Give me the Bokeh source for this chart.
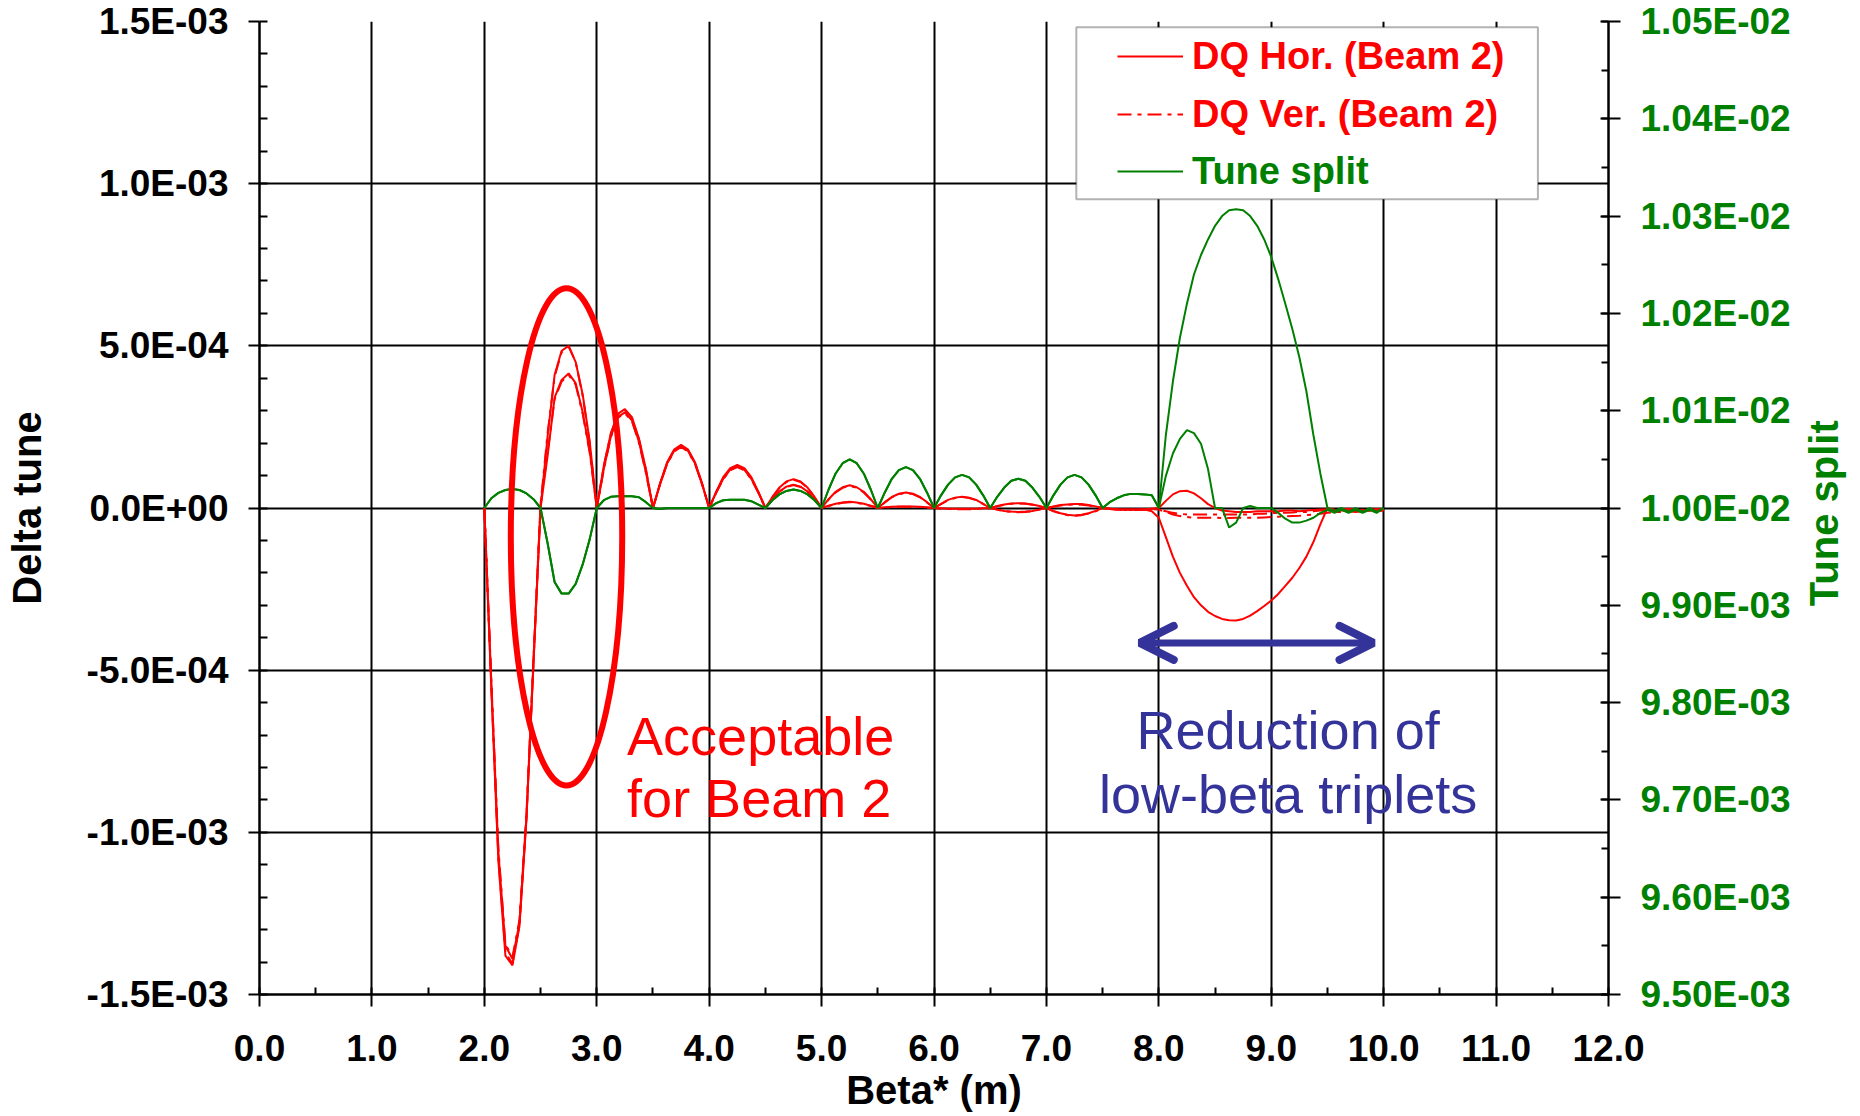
import numpy as np
from bokeh.plotting import figure
from bokeh.layouts import row
from bokeh.models import (Range1d, LinearAxis, FixedTicker, CustomJSTickFormatter, Legend,
                          LegendItem, BoxAnnotation, Label, Arrow, OpenHead)
from bokeh.embed import file_html
from bokeh.resources import INLINE

# ---------------- data ----------------
# Beta* scan points (m)
beta = [
    2.0, 2.0625, 2.125, 2.1875, 2.25, 2.3125, 2.375, 2.4375,
    2.5, 2.5625, 2.625, 2.6875, 2.75, 2.8125, 2.875, 2.9375,
    3.0, 3.0625, 3.125, 3.1875, 3.25, 3.3125, 3.375, 3.4375,
    3.5, 3.5625, 3.625, 3.6875, 3.75, 3.8125, 3.875, 3.9375,
    4.0, 4.0625, 4.125, 4.1875, 4.25, 4.3125, 4.375, 4.4375,
    4.5, 4.5625, 4.625, 4.6875, 4.75, 4.8125, 4.875, 4.9375,
    5.0, 5.0625, 5.125, 5.1875, 5.25, 5.3125, 5.375, 5.4375,
    5.5, 5.5625, 5.625, 5.6875, 5.75, 5.8125, 5.875, 5.9375,
    6.0, 6.0625, 6.125, 6.1875, 6.25, 6.3125, 6.375, 6.4375,
    6.5, 6.5625, 6.625, 6.6875, 6.75, 6.8125, 6.875, 6.9375,
    7.0, 7.0625, 7.125, 7.1875, 7.25, 7.3125, 7.375, 7.4375,
    7.5, 7.5625, 7.625, 7.6875, 7.75, 7.8125, 7.875, 7.9375,
    8.0, 8.0625, 8.125, 8.1875, 8.25, 8.3125, 8.375, 8.4375,
    8.5, 8.5625, 8.625, 8.6875, 8.75, 8.8125, 8.875, 8.9375,
    9.0, 9.0625, 9.125, 9.1875, 9.25, 9.3125, 9.375, 9.4375,
    9.5, 9.5625, 9.625, 9.6875, 9.75, 9.8125, 9.875, 9.9375,
    10.0,
]

# Delta tune, in units of 1e-4
dq_hor_a_e4 = [
    0, -5.6, -10.9, -13.8, -14.1, -12.9, -9.6, -4.7,
    0.0, 2.2, 4.1, 4.85, 5.0, 4.5, 3.5, 2.05,
    0, 1.3, 2.3, 2.9, 3.05, 2.8, 2.15, 1.2,
    0, 0.75, 1.4, 1.8, 1.95, 1.8, 1.4, 0.75,
    0, 0.5, 0.95, 1.23, 1.33, 1.23, 0.95, 0.5,
    0, 0.34, 0.63, 0.82, 0.89, 0.82, 0.63, 0.34,
    0, 0.27, 0.5, 0.64, 0.7, 0.64, 0.5, 0.27,
    0, 0.18, 0.34, 0.44, 0.48, 0.44, 0.34, 0.18,
    0, 0.13, 0.25, 0.32, 0.35, 0.32, 0.25, 0.13,
    0, 0.06, 0.11, 0.14, 0.15, 0.14, 0.11, 0.06,
    0, 0.05, 0.09, 0.11, 0.12, 0.12, 0.09, 0.05,
    0, -0.02, -0.04, -0.05, -0.05, -0.05, -0.04, -0.02,
    0, 0.22, 0.42, 0.52, 0.53, 0.45, 0.3, 0.12,
    0, -0.08, -0.1, -0.12, -0.12, -0.12, -0.1, -0.1,
    -0.1, -0.1, -0.08, -0.08, -0.1, -0.08, -0.06, -0.05,
    -0.05, -0.08, -0.05, -0.02, -0.05, -0.08, -0.05, -0.03,
    -0.05,
]
dq_ver_a_e4 = [
    0, -5.5, -10.8, -13.7, -14.05, -12.85, -9.5, -4.6,
    0.1, 2.3, 4.05, 4.8, 4.98, 4.5, 3.45, 2.0,
    0, 1.28, 2.28, 2.88, 3.02, 2.78, 2.12, 1.18,
    0, 0.74, 1.38, 1.78, 1.93, 1.78, 1.38, 0.74,
    0, 0.49, 0.93, 1.2, 1.3, 1.2, 0.93, 0.49,
    0, 0.33, 0.62, 0.8, 0.87, 0.8, 0.62, 0.33,
    0, 0.26, 0.48, 0.62, 0.68, 0.62, 0.48, 0.26,
    0, 0.17, 0.33, 0.43, 0.46, 0.43, 0.33, 0.17,
    0, 0.12, 0.24, 0.31, 0.34, 0.31, 0.24, 0.12,
    0, 0.05, 0.1, 0.13, 0.14, 0.13, 0.1, 0.05,
    0, 0.04, 0.08, 0.1, 0.11, 0.1, 0.08, 0.04,
    0, -0.03, -0.05, -0.06, -0.06, -0.06, -0.05, -0.03,
    -0.05, -0.12, -0.2, -0.25, -0.28, -0.3, -0.3, -0.3,
    -0.3, -0.31, -0.31, -0.3, -0.3, -0.3, -0.3, -0.29,
    -0.28, -0.27, -0.26, -0.25, -0.24, -0.22, -0.2, -0.18,
    -0.15, -0.13, -0.12, -0.1, -0.12, -0.1, -0.08, -0.1,
    -0.08,
]
dq_hor_b_e4 = [
    0, -5.4, -10.6, -13.5, -13.9, -12.8, -9.5, -4.8,
    0.0, 1.6, 3.4, 3.95, 4.15, 3.85, 2.95, 1.75,
    0, 1.2, 2.2, 2.8, 2.95, 2.7, 2.05, 1.1,
    0, 0.73, 1.37, 1.76, 1.9, 1.76, 1.37, 0.73,
    0, 0.48, 0.9, 1.18, 1.28, 1.18, 0.9, 0.48,
    0, 0.27, 0.51, 0.66, 0.72, 0.66, 0.51, 0.27,
    0, 0.07, 0.13, 0.17, 0.19, 0.17, 0.13, 0.07,
    0, 0.02, 0.04, 0.05, 0.05, 0.05, 0.04, 0.02,
    0, -0.01, -0.02, -0.02, -0.02, -0.02, -0.02, -0.01,
    0, -0.05, -0.09, -0.11, -0.12, -0.11, -0.09, -0.05,
    0, -0.09, -0.16, -0.21, -0.23, -0.21, -0.16, -0.09,
    0, -0.02, -0.04, -0.05, -0.05, -0.05, -0.05, -0.1,
    -0.3, -0.9, -1.5, -2.0, -2.4, -2.75, -3.0, -3.2,
    -3.33, -3.42, -3.46, -3.47, -3.42, -3.32, -3.18, -3.02,
    -2.85, -2.65, -2.4, -2.15, -1.85, -1.5, -1.05, -0.5,
    0.0, -0.05, -0.08, -0.05, -0.08, -0.05, -0.08, -0.05,
    -0.05,
]
dq_ver_b_e4 = [
    0, -5.35, -10.5, -13.45, -13.85, -12.7, -9.4, -4.7,
    0.1, 1.7, 3.35, 3.9, 4.1, 3.8, 2.9, 1.7,
    0, 1.18, 2.18, 2.78, 2.92, 2.68, 2.02, 1.08,
    0, 0.72, 1.35, 1.74, 1.88, 1.74, 1.35, 0.72,
    0, 0.47, 0.89, 1.16, 1.26, 1.16, 0.89, 0.47,
    0, 0.26, 0.5, 0.65, 0.71, 0.65, 0.5, 0.26,
    0, 0.06, 0.12, 0.16, 0.18, 0.16, 0.12, 0.06,
    0, 0.01, 0.03, 0.04, 0.04, 0.04, 0.03, 0.01,
    0, -0.02, -0.03, -0.04, -0.04, -0.04, -0.03, -0.02,
    0, -0.05, -0.1, -0.12, -0.13, -0.12, -0.1, -0.05,
    0, -0.1, -0.17, -0.22, -0.24, -0.22, -0.17, -0.1,
    0, -0.03, -0.05, -0.06, -0.06, -0.06, -0.05, -0.03,
    -0.05, -0.1, -0.15, -0.18, -0.2, -0.2, -0.2, -0.2,
    -0.2, -0.2, -0.2, -0.2, -0.2, -0.2, -0.18, -0.18,
    -0.16, -0.15, -0.15, -0.14, -0.12, -0.12, -0.1, -0.08,
    -0.06, -0.1, -0.06, -0.1, -0.06, -0.1, -0.06, -0.1,
    -0.06,
]

# Tune split, in units of 1e-5
tune_split_a_e5 = [
    1000, 1001.0, 1001.55, 1001.85, 1001.95, 1001.85, 1001.5, 1000.9,
    1000, 996.4, 992.4, 991.2, 991.2, 992.2, 994.2, 996.8,
    1000, 1000.8, 1001.15, 1001.2, 1001.2, 1001.2, 1001.1, 1000.6,
    1000, 999.9, 1000, 1000, 1000, 1000, 1000, 1000,
    1000, 1000.5, 1000.8, 1000.86, 1000.86, 1000.85, 1000.7, 1000.35,
    1000, 1000.8, 1001.4, 1001.75, 1001.9, 1001.75, 1001.4, 1000.8,
    1000, 1001.9, 1003.55, 1004.6, 1005.0, 1004.6, 1003.55, 1001.9,
    1000, 1001.6, 1003.0, 1003.9, 1004.2, 1003.9, 1003.0, 1001.6,
    1000, 1001.3, 1002.4, 1003.15, 1003.4, 1003.15, 1002.4, 1001.3,
    1000, 1001.15, 1002.1, 1002.8, 1003.0, 1002.8, 1002.1, 1001.15,
    1000, 1001.3, 1002.4, 1003.15, 1003.4, 1003.15, 1002.4, 1001.3,
    1000, 1000.6, 1001.0, 1001.3, 1001.45, 1001.45, 1001.4, 1001.3,
    1000, 1007.5, 1013.0, 1017.5, 1021.0, 1024.0, 1026.0, 1027.6,
    1029.0, 1030.0, 1030.6, 1030.7, 1030.6, 1030.0, 1029.0, 1027.6,
    1025.8, 1023.5, 1021.0, 1018.4, 1015.5, 1012.0, 1007.5, 1003.5,
    1000, 999.7, 1000, 999.6, 1000, 999.6, 1000, 999.6,
    1000,
]
tune_split_b_e5 = [
    1000, 1001.0, 1001.55, 1001.85, 1001.95, 1001.85, 1001.5, 1000.9,
    1000, 996.4, 992.4, 991.2, 991.2, 992.2, 994.2, 996.8,
    1000, 1000.8, 1001.15, 1001.2, 1001.2, 1001.2, 1001.1, 1000.6,
    1000, 999.9, 1000, 1000, 1000, 1000, 1000, 1000,
    1000, 1000.5, 1000.8, 1000.86, 1000.86, 1000.85, 1000.7, 1000.35,
    1000, 1000.8, 1001.4, 1001.75, 1001.9, 1001.75, 1001.4, 1000.8,
    1000, 1001.9, 1003.55, 1004.6, 1005.0, 1004.6, 1003.55, 1001.9,
    1000, 1001.6, 1003.0, 1003.9, 1004.2, 1003.9, 1003.0, 1001.6,
    1000, 1001.3, 1002.4, 1003.15, 1003.4, 1003.15, 1002.4, 1001.3,
    1000, 1001.15, 1002.1, 1002.8, 1003.0, 1002.8, 1002.1, 1001.15,
    1000, 1001.3, 1002.4, 1003.15, 1003.4, 1003.15, 1002.4, 1001.3,
    1000, 1000.6, 1001.0, 1001.3, 1001.45, 1001.45, 1001.4, 1001.3,
    1000, 1003.3, 1005.6, 1007.1, 1008.0, 1007.7, 1006.6, 1004.0,
    1000, 1000, 998.0, 998.5, 1000, 1000.2, 1000, 1000,
    1000, 999.5, 998.9, 998.5, 998.5, 998.7, 999.0, 999.5,
    999.8, 999.5, 999.8, 999.5, 999.8, 999.5, 999.8, 999.5,
    1000,
]

x_ticks = [0.0, 1.0, 2.0, 3.0, 4.0, 5.0, 6.0, 7.0, 8.0, 9.0, 10.0, 11.0, 12.0]
x_tick_labels = ["0.0", "1.0", "2.0", "3.0", "4.0", "5.0", "6.0", "7.0", "8.0",
                 "9.0", "10.0", "11.0", "12.0"]
y_ticks = [-1.5e-3, -1.0e-3, -5.0e-4, 0.0, 5.0e-4, 1.0e-3, 1.5e-3]
y_tick_labels = ["-1.5E-03", "-1.0E-03", "-5.0E-04", "0.0E+00", "5.0E-04", "1.0E-03", "1.5E-03"]
y2_ticks = [9.5e-3, 9.6e-3, 9.7e-3, 9.8e-3, 9.9e-3, 1.00e-2, 1.01e-2, 1.02e-2, 1.03e-2,
            1.04e-2, 1.05e-2]
y2_tick_labels = ["9.50E-03", "9.60E-03", "9.70E-03", "9.80E-03", "9.90E-03", "1.00E-02",
                  "1.01E-02", "1.02E-02", "1.03E-02", "1.04E-02", "1.05E-02"]

# unit conversion
dq_hor_a = np.array(dq_hor_a_e4) * 1e-4
dq_ver_a = np.array(dq_ver_a_e4) * 1e-4
dq_hor_b = np.array(dq_hor_b_e4) * 1e-4
dq_ver_b = np.array(dq_ver_b_e4) * 1e-4
tune_a = np.array(tune_split_a_e5) * 1e-5
tune_b = np.array(tune_split_b_e5) * 1e-5

# ---------------- styling constants ----------------
RED = "#FF0000"
GREEN = "#008000"
BLUE = "#333399"
FONT = "Liberation Sans"

ELLIPSE = dict(x=2.731, y=-8.9e-5, w=0.991, h=1.533e-3)
ARROW = dict(x0=7.83, x1=9.91, y=-4.16e-4)
LEGEND_BOX = dict(left=7.266, right=11.372, top=1.4825e-3, bottom=9.52e-4)

MAIN_W, SIDE_W, H = 1800, 60, 1116
SIDE_TITLE_X, SIDE_TITLE_Y = 23, 552


def tick_fmt(tick_values, tick_texts):
    return CustomJSTickFormatter(args=dict(tv=tick_values, tl=tick_texts), code="""
        for (let i = 0; i < tv.length; i++) {
            if (Math.abs(tv[i] - tick) < 1e-9) { return tl[i]; }
        }
        return "";
    """)


p = figure(width=MAIN_W, height=H, output_backend="svg", toolbar_location=None,
           x_range=Range1d(0, 12), y_range=Range1d(-1.5e-3, 1.5e-3),
           min_border_left=259, min_border_right=192, min_border_top=21, min_border_bottom=122)
p.extra_y_ranges = {"tune": Range1d(9.5e-3, 1.05e-2)}
p.outline_line_color = None
p.background_fill_color = "white"
p.border_fill_color = "white"

x_ticker = FixedTicker(ticks=x_ticks, minor_ticks=list(np.arange(0.5, 12, 1.0)))
y_ticker = FixedTicker(ticks=y_ticks, minor_ticks=list(np.round(np.arange(-1.5e-3, 1.5e-3 + 1e-9, 1e-4), 6)))
y2_ticker = FixedTicker(ticks=y2_ticks, minor_ticks=list(np.round(np.arange(9.5e-3, 1.05e-2 + 1e-9, 5e-5), 7)))

xa = p.xaxis[0]
xa.ticker = x_ticker
xa.formatter = tick_fmt(x_ticks, x_tick_labels)
ya = p.yaxis[0]
ya.ticker = y_ticker
ya.formatter = tick_fmt(y_ticks, y_tick_labels)
ya2 = LinearAxis(y_range_name="tune", ticker=y2_ticker, formatter=tick_fmt(y2_ticks, y2_tick_labels))
p.add_layout(ya2, "right")

for ax in (xa, ya, ya2):
    ax.axis_line_color = "black"
    ax.axis_line_width = 2.5
    ax.major_tick_line_color = "black"
    ax.major_tick_line_width = 2
    ax.minor_tick_line_color = "black"
    ax.minor_tick_line_width = 2
    ax.major_label_text_font = FONT
    ax.major_label_text_font_style = "bold"
    ax.major_label_text_font_size = "37px"
    ax.major_label_text_color = "black"
    ax.axis_label_text_font = FONT
    ax.axis_label_text_font_style = "bold"
    ax.axis_label_text_font_size = "40px"
    ax.axis_label_text_color = "black"

xa.major_tick_in = 7
xa.major_tick_out = 12
xa.minor_tick_in = 7
xa.minor_tick_out = 0
xa.major_label_standoff = 28
xa.axis_label = "Beta* (m)"
xa.axis_label_standoff = 4

ya.major_tick_in = 0
ya.major_tick_out = 11
ya.minor_tick_in = 8
ya.minor_tick_out = 0
ya.major_label_standoff = 20
ya.axis_label = "Delta tune"
ya.axis_label_standoff = 35

ya2.major_tick_in = 8
ya2.major_tick_out = 12
ya2.minor_tick_in = 7
ya2.minor_tick_out = 0
ya2.major_label_standoff = 20
ya2.major_label_text_color = GREEN

p.xgrid[0].ticker = x_ticker
p.ygrid[0].ticker = y_ticker
for g in (p.xgrid[0], p.ygrid[0]):
    g.grid_line_color = "black"
    g.grid_line_width = 2

# legend box (drawn behind the legend entries)
p.add_layout(BoxAnnotation(left=LEGEND_BOX["left"], right=LEGEND_BOX["right"],
                           top=LEGEND_BOX["top"], bottom=LEGEND_BOX["bottom"],
                           fill_color="white", fill_alpha=1.0,
                           line_color="black", line_width=2))

# data lines
r_hor_b = p.line(beta, dq_hor_b, line_color=RED, line_width=2)
r_ver_b = p.line(beta, dq_ver_b, line_color=RED, line_width=2, line_dash="14 6 4 6")
r_hor_a = p.line(beta, dq_hor_a, line_color=RED, line_width=2)
r_ver_a = p.line(beta, dq_ver_a, line_color=RED, line_width=2, line_dash="14 6 4 6")
r_g_b = p.line(beta, tune_b, line_color=GREEN, line_width=2, y_range_name="tune")
r_g_a = p.line(beta, tune_a, line_color=GREEN, line_width=2, y_range_name="tune")

# annotations
p.ellipse(x=[ELLIPSE["x"]], y=[ELLIPSE["y"]], width=[ELLIPSE["w"]], height=[ELLIPSE["h"]],
          fill_color=None, line_color=RED, line_width=6)

p.add_layout(Arrow(x_start=ARROW["x0"], y_start=ARROW["y"], x_end=ARROW["x1"], y_end=ARROW["y"],
                   line_color=BLUE, line_width=7,
                   start=OpenHead(size=34, line_color=BLUE, line_width=8, line_cap="round"),
                   end=OpenHead(size=34, line_color=BLUE, line_width=8, line_cap="round")))

for txt, x, y, col, align in [("Acceptable", 3.27, -7.02e-4, RED, "left"),
                              ("for Beam 2", 3.27, -8.95e-4, RED, "left"),
                              ("Reduction of", 9.15, -6.83e-4, BLUE, "center"),
                              ("low-beta triplets", 9.15, -8.81e-4, BLUE, "center")]:
    p.add_layout(Label(x=x, y=y, text=txt, text_color=col, text_font=FONT,
                       text_font_size="54px", text_align=align, text_baseline="middle"))

legend_style = dict(padding=0, spacing=10, glyph_width=66, glyph_height=48, label_height=48,
                    label_standoff=9, border_line_color=None, background_fill_alpha=0.0,
                    label_text_font=FONT, label_text_font_style="bold",
                    label_text_font_size="38px", margin=0)
leg_red = Legend(items=[LegendItem(label="DQ Hor. (Beam 2)", renderers=[r_hor_a]),
                        LegendItem(label="DQ Ver. (Beam 2)", renderers=[r_ver_a])],
                 location=(858, 856), label_text_color=RED, **legend_style)
leg_green = Legend(items=[LegendItem(label="Tune split", renderers=[r_g_a])],
                   location=(858, 799), label_text_color=GREEN, **legend_style)
p.add_layout(leg_red)
p.add_layout(leg_green)

# narrow side strip carrying the right-hand axis title, reading bottom to top
side = figure(width=SIDE_W, height=H, output_backend="svg", toolbar_location=None,
              x_range=Range1d(0, SIDE_W), y_range=Range1d(0, H),
              x_axis_location=None, y_axis_location=None, min_border=0)
side.grid.visible = False
side.outline_line_color = None
side.background_fill_color = "white"
side.border_fill_color = "white"
side.add_layout(Label(x=SIDE_TITLE_X, y=SIDE_TITLE_Y, text="Tune split", text_font=FONT,
                      text_font_style="bold", text_font_size="40px", text_color=GREEN,
                      angle=90, angle_units="deg", text_align="center", text_baseline="middle"))

layout = row(p, side, spacing=0)
open("out.html", "w").write(file_html(layout, INLINE))
